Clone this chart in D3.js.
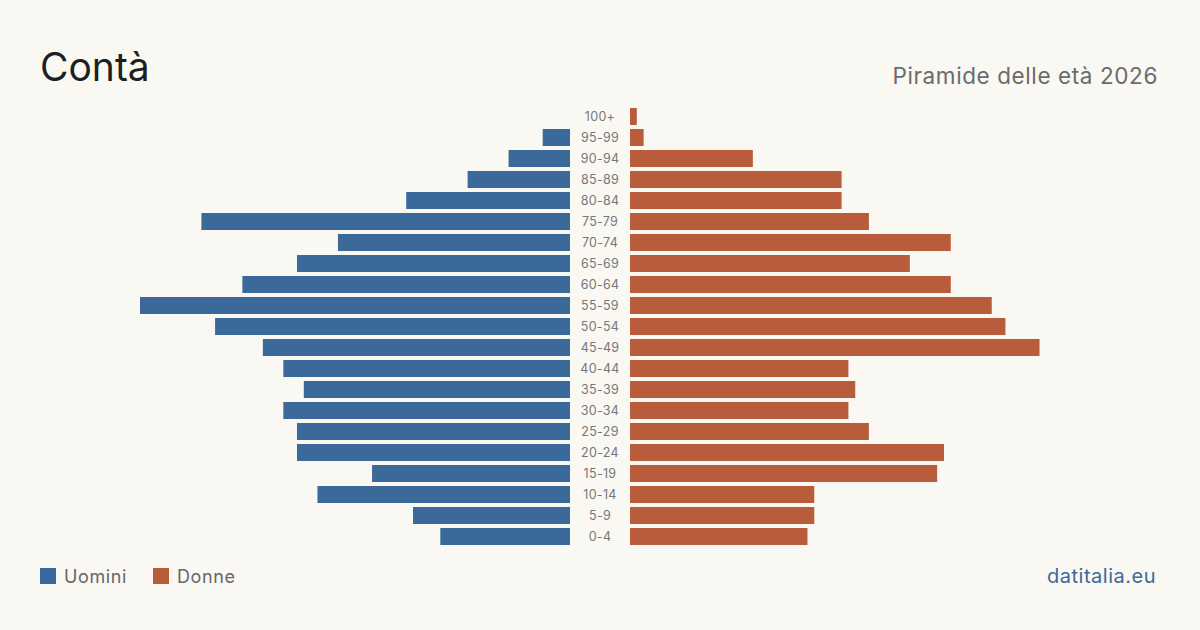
<!DOCTYPE html>
<html>
<head>
<meta charset="utf-8">
<script src="https://cdn.jsdelivr.net/npm/d3@7"></script>
<style>
  html, body { margin: 0; padding: 0; background: #f9f8f3; }
  svg { display: block; font-family: Inter, "Noto Sans", sans-serif; }
</style>
</head>
<body>
<svg id="chart" width="1200" height="630"></svg>
<script>
// age groups, top to bottom
const ageGroups = ["100+", "95-99", "90-94", "85-89", "80-84", "75-79", "70-74", "65-69", "60-64", "55-59",
  "50-54", "45-49", "40-44", "35-39", "30-34", "25-29", "20-24", "15-19", "10-14", "5-9", "0-4"];
const men   = [0, 4, 9, 15, 24, 54, 34, 40, 48, 63, 52, 45, 42, 39, 42, 40, 40, 29, 37, 23, 19];
const women = [1, 2, 18, 31, 31, 35, 47, 41, 47, 53, 55, 60, 32, 33, 32, 35, 46, 45, 27, 27, 26];

const svg = d3.select("#chart");

const blue = "#3b6a9a";
const orange = "#b95c3c";

// rows
const y = d3.scaleBand()
  .domain(ageGroups)
  .range([106, 547])
  .paddingInner(0.19)
  .paddingOuter(0.095);

// one scale for both halves
const maxVal = d3.max(men.concat(women));
const x = d3.scaleLinear().domain([0, maxVal]).range([0, 430]);

const leftEdge = 570, rightEdge = 630;

svg.append("g")
  .selectAll("rect")
  .data(ageGroups)
  .join("rect")
  .attr("x", (d, i) => leftEdge - x(men[i]))
  .attr("y", d => y(d))
  .attr("width", (d, i) => x(men[i]))
  .attr("height", y.bandwidth())
  .attr("fill", blue);

svg.append("g")
  .selectAll("rect")
  .data(ageGroups)
  .join("rect")
  .attr("x", rightEdge)
  .attr("y", d => y(d))
  .attr("width", (d, i) => x(women[i]))
  .attr("height", y.bandwidth())
  .attr("fill", orange);

// age labels in the middle
svg.append("g")
  .selectAll("text")
  .data(ageGroups)
  .join("text")
  .attr("x", 600)
  .attr("y", d => y(d) + y.bandwidth() / 2)
  .attr("dy", "0.35em")
  .attr("text-anchor", "middle")
  .attr("font-size", 12.5)
  .attr("letter-spacing", 0.3)
  .attr("fill", "#777")
  .text(d => d);

// title + subtitle
svg.append("text")
  .attr("x", 40).attr("y", 81)
  .attr("font-size", 39)
  .attr("fill", "#1f1f1f")
  .text("Contà");

svg.append("text")
  .attr("x", 1158).attr("y", 84)
  .attr("text-anchor", "end")
  .attr("font-size", 22.5)
  .attr("letter-spacing", 0.6)
  .attr("fill", "#6b6b6b")
  .text("Piramide delle età 2026");

// legend
const legend = [{ label: "Uomini", color: blue, x: 40 }, { label: "Donne", color: orange, x: 153 }];
const lg = svg.append("g")
  .selectAll("g")
  .data(legend)
  .join("g")
  .attr("transform", d => `translate(${d.x},568)`);
lg.append("rect").attr("width", 16).attr("height", 16).attr("fill", d => d.color);
lg.append("text")
  .attr("x", 24).attr("y", 15)
  .attr("font-size", 18)
  .attr("letter-spacing", 0.6)
  .attr("fill", "#666")
  .text(d => d.label);

// footer
svg.append("text")
  .attr("x", 1156).attr("y", 583)
  .attr("text-anchor", "end")
  .attr("font-size", 20)
  .attr("letter-spacing", 0.5)
  .attr("fill", blue)
  .text("datitalia.eu");
</script>
</body>
</html>
